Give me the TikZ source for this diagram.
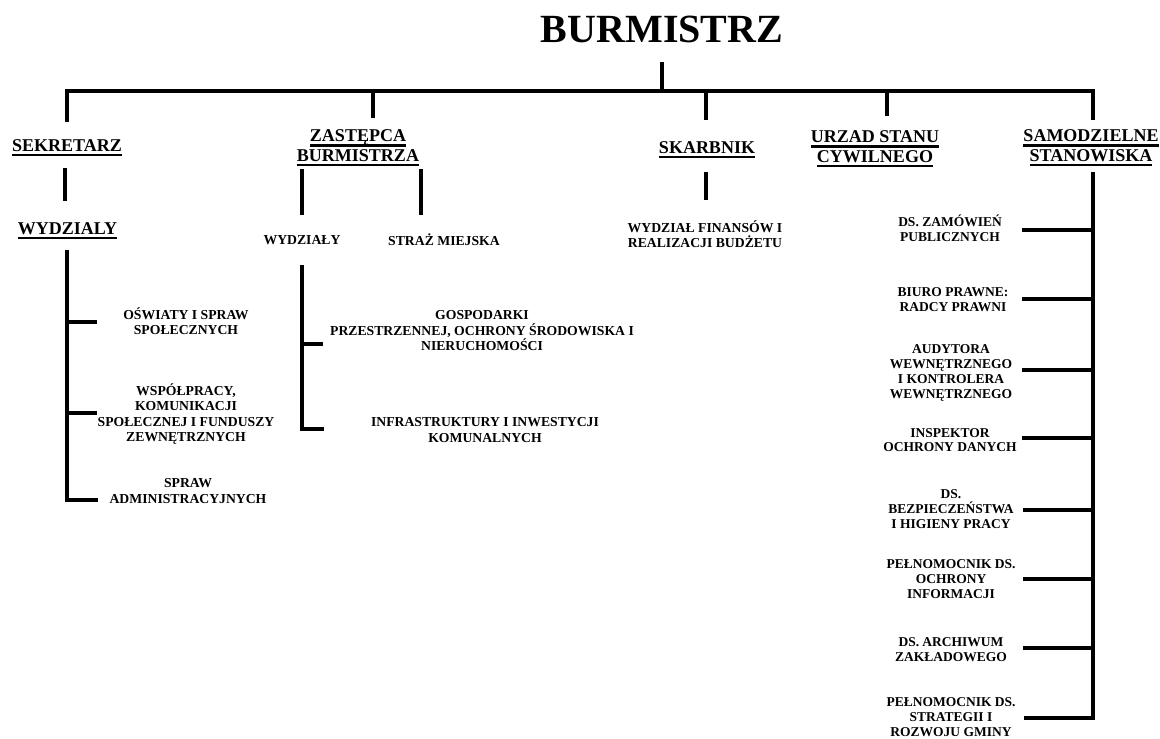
\documentclass[tikz,border=0pt]{standalone}
\usepackage{fontspec}
\setmainfont{Liberation Serif}
\newcommand\ulbox[1]{\leavevmode\setbox0\hbox{#1}\rlap{\raisebox{-4.8pt}{\rule{\wd0}{2.3pt}}}\box0}
\begin{document}
\begin{tikzpicture}[x=1pt,y=-1pt,
  titlestyle/.style={font=\fontsize{40}{48}\selectfont\bfseries,inner sep=0pt},
  head/.style={font=\fontsize{18}{19.5}\selectfont\bfseries,align=center,inner sep=0pt},
  unit/.style={font=\fontsize{13.7}{15.5}\selectfont\bfseries,align=center,inner sep=0pt},
  unitr/.style={font=\fontsize{13.5}{14.8}\selectfont\bfseries,align=center,inner sep=0pt},
  conn/.style={line width=3.2pt,line cap=butt,line join=miter},
  connthick/.style={line width=4pt,line cap=butt}]
\useasboundingbox (0,0) rectangle (1160,739);
\fill[white] (0,0) rectangle (1160,739);

% ---- headings
\node[titlestyle] (burm) at (662,29) {BURMISTRZ};
\node[head] (sek) at (67,147.5) {\ulbox{SEKRETARZ}};
\node[head] (sekw) at (67.5,230.5) {\ulbox{WYDZIALY}};
\node[head] (zas) at (358,148) {\ulbox{ZASTĘPCA}\\\ulbox{BURMISTRZA}};
\node[head] (skarb) at (707,149.5) {\ulbox{SKARBNIK}};
\node[head] (usc) at (875,149) {\ulbox{URZAD STANU}\\\ulbox{CYWILNEGO}};
\node[head] (sam) at (1091,148) {\ulbox{SAMODZIELNE}\\\ulbox{STANOWISKA}};

% ---- sekretarz units
\node[unit] (osw) at (186,321) {OŚWIATY I SPRAW\\SPOŁECZNYCH};
\node[unit] (wsp) at (186,414) {WSPÓŁPRACY,\\KOMUNIKACJI\\SPOŁECZNEJ I FUNDUSZY\\ZEWNĘTRZNYCH};
\node[unit] (adm) at (188,491) {SPRAW\\ADMINISTRACYJNYCH};

% ---- zastepca units
\node[unit] (zw) at (302,240) {WYDZIAŁY};
\node[unit] (straz) at (444,240) {STRAŻ MIEJSKA};
\node[unit] (gosp) at (482,331) {GOSPODARKI\\PRZESTRZENNEJ, OCHRONY ŚRODOWISKA I\\NIERUCHOMOŚCI};
\node[unit] (infra) at (485,430) {INFRASTRUKTURY I INWESTYCJI\\KOMUNALNYCH};

% ---- skarbnik unit
\node[unit] (fin) at (705,234) {WYDZIAŁ FINANSÓW I\\REALIZACJI BUDŻETU};

% ---- samodzielne stanowiska
\node[unitr] (zam) at (950,228.5) {DS. ZAMÓWIEŃ\\PUBLICZNYCH};
\node[unitr] (biuro) at (953,300) {BIURO PRAWNE:\\RADCY PRAWNI};
\node[unitr] (aud) at (951,373) {AUDYTORA\\WEWNĘTRZNEGO\\I KONTROLERA\\WEWNĘTRZNEGO};
\node[unitr] (insp) at (950,440) {INSPEKTOR\\OCHRONY DANYCH};
\node[unitr] (bhp) at (951,509) {DS.\\BEZPIECZEŃSTWA\\I HIGIENY PRACY};
\node[unitr] (pinf) at (951,579) {PEŁNOMOCNIK DS.\\OCHRONY\\INFORMACJI};
\node[unitr] (arch) at (951,650) {DS. ARCHIWUM\\ZAKŁADOWEGO};
\node[unitr] (strat) at (951,717) {PEŁNOMOCNIK DS.\\STRATEGII I\\ROZWOJU GMINY};

% ---- coordinates for connector ends
\coordinate (t0) at (662,62);
\coordinate (t1) at (662,91);
\coordinate (bL) at (67,91);
\coordinate (bR) at (1093,91);
\coordinate (dSek) at (67,122);
\coordinate (tZas) at (373,91);  \coordinate (dZas) at (373,118);
\coordinate (tSka) at (706,91);  \coordinate (dSka) at (706,120);
\coordinate (tUsc) at (887,91);  \coordinate (dUsc) at (887,116);
\coordinate (dSam) at (1093,120);

\coordinate (s1) at (65,168);  \coordinate (s2) at (65,201);
\coordinate (k1) at (706,172); \coordinate (k2) at (706,200);
\coordinate (z1) at (302,169); \coordinate (z2) at (302,215);
\coordinate (z3) at (421,169); \coordinate (z4) at (421,215);

\coordinate (L0) at (67,250); \coordinate (L3) at (67,500); \coordinate (L3e) at (98,500);
\coordinate (L1) at (67,322); \coordinate (L1e) at (97,322);
\coordinate (L2) at (67,413); \coordinate (L2e) at (97,413);

\coordinate (M0) at (302,265); \coordinate (M2) at (302,429); \coordinate (M2e) at (324,429);
\coordinate (M1) at (302,344); \coordinate (M1e) at (323,344);

\coordinate (R0) at (1093,172); \coordinate (R8) at (1093,718); \coordinate (R8e) at (1024,718);
\coordinate (R1) at (1093,230); \coordinate (R1e) at (1022,230);
\coordinate (R2) at (1093,299); \coordinate (R2e) at (1022,299);
\coordinate (R3) at (1093,370); \coordinate (R3e) at (1022,370);
\coordinate (R4) at (1093,438); \coordinate (R4e) at (1022,438);
\coordinate (R5) at (1093,510); \coordinate (R5e) at (1023,510);
\coordinate (R6) at (1093,579); \coordinate (R6e) at (1023,579);
\coordinate (R7) at (1093,648); \coordinate (R7e) at (1023,648);

% ---- connectors
\draw[conn] (t0) -- (t1);
\draw[conn] (dSek) -- (bL) -- (bR) -- (dSam);
\draw[conn] (tZas) -- (dZas);
\draw[conn] (tSka) -- (dSka);
\draw[conn] (tUsc) -- (dUsc);

\draw[connthick] (s1) -- (s2);
\draw[connthick] (k1) -- (k2);
\draw[conn] (z1) -- (z2);
\draw[conn] (z3) -- (z4);

\draw[conn] (L0) -- (L3) -- (L3e);
\draw[conn] (L1) -- (L1e);
\draw[conn] (L2) -- (L2e);

\draw[conn] (M0) -- (M2) -- (M2e);
\draw[conn] (M1) -- (M1e);

\draw[conn] (R0) -- (R8) -- (R8e);
\draw[conn] (R1) -- (R1e);
\draw[conn] (R2) -- (R2e);
\draw[conn] (R3) -- (R3e);
\draw[conn] (R4) -- (R4e);
\draw[conn] (R5) -- (R5e);
\draw[conn] (R6) -- (R6e);
\draw[conn] (R7) -- (R7e);
\end{tikzpicture}
\end{document}
